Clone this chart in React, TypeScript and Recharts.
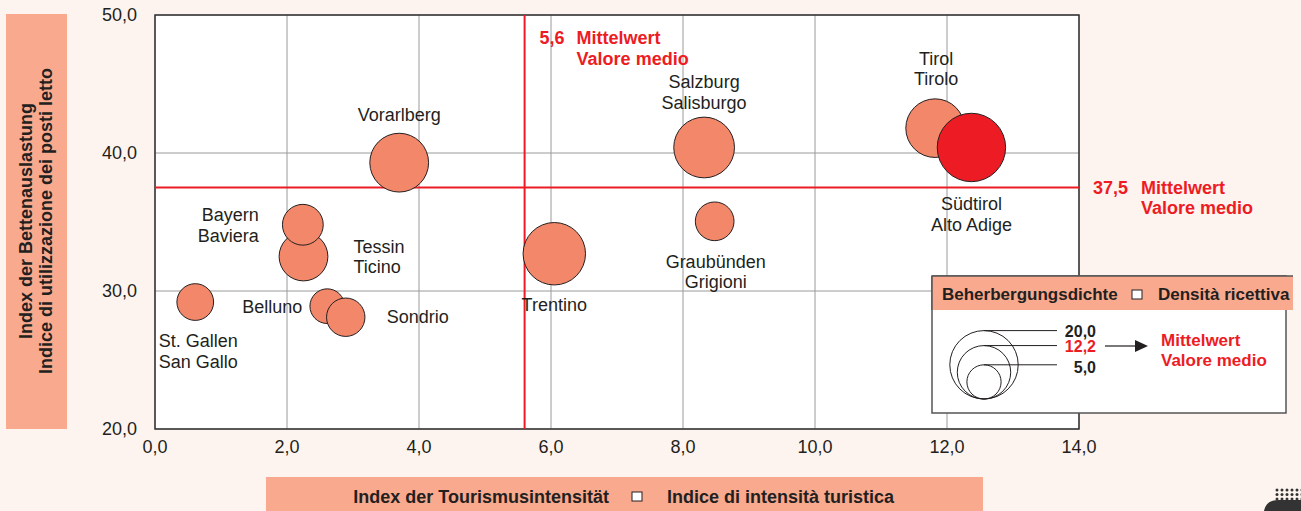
import React from 'react';
import {
  ScatterChart,
  Scatter,
  XAxis,
  YAxis,
  ZAxis,
  CartesianGrid,
  ReferenceLine,
  ReferenceArea,
  Cell,
} from 'recharts';

// regions (German / Italian names)
const regions = ['St. Gallen', 'Tessin', 'Bayern', 'Belluno', 'Sondrio', 'Vorarlberg', 'Trentino', 'Salzburg', 'Graubünden', 'Tirol', 'Südtirol'];
const regionsIt = ['San Gallo', 'Ticino', 'Baviera', '', '', '', '', 'Salisburgo', 'Grigioni', 'Tirolo', 'Alto Adige'];
// Index der Tourismusintensität
const tourismIntensity = [0.61, 2.25, 2.24, 2.61, 2.89, 3.7, 6.05, 8.32, 8.48, 11.82, 12.37];
// Index der Bettenauslastung
const bedOccupancy = [29.2, 32.5, 34.8, 28.9, 28.1, 39.3, 32.7, 40.4, 35.05, 41.8, 40.4];
// Beherbergungsdichte
const bedDensity = [6.4, 11.3, 7.9, 5.7, 7.0, 16.4, 18.5, 17.5, 7.1, 16.3, 22.2];

const xTicks = [0, 2, 4, 6, 8, 10, 12, 14];
const yTicks = [20, 30, 40, 50];
const meanIntensity = 5.6;
const meanOccupancy = 37.5;
const meanDensity = 12.2;
const legendSizes = [20, 12.2, 5];
const highlighted = 'Südtirol';

const data = regions.map((name, i) => ({
  name,
  nameIt: regionsIt[i],
  x: tourismIntensity[i],
  y: bedOccupancy[i],
  z: bedDensity[i],
}));

const FONT = '"Liberation Sans", Arial, Helvetica, sans-serif';
const TEXT = '#231f20';
const RED = '#ed1c24';
const SALMON = '#f3876a';
const BOX = '#f9aa8e';
const BG = '#fef4ef';

// bubble area is proportional to density: 20,0 -> r 34.2px
const Z_DOMAIN: [number, number] = [0, 20];
const Z_RANGE: [number, number] = [0, Math.PI * 34.2 * 34.2];
const radiusFor = (v: number) => Math.sqrt(((v - Z_DOMAIN[0]) / (Z_DOMAIN[1] - Z_DOMAIN[0])) * Z_RANGE[1] / Math.PI);

const fmt = (v: number) => v.toFixed(1).replace('.', ',');

// where the names sit around each bubble (px from centre)
const labelPos: Record<string, { dx: number; dy: number[]; anchor: 'start' | 'middle' | 'end' }> = {
  'St. Gallen': { dx: 3, dy: [39, 60], anchor: 'middle' },
  Tessin: { dx: 50, dy: [-10, 10], anchor: 'start' },
  Bayern: { dx: -44, dy: [-10, 11], anchor: 'end' },
  Belluno: { dx: -25, dy: [1], anchor: 'end' },
  Sondrio: { dx: 41, dy: [0], anchor: 'start' },
  Vorarlberg: { dx: 0, dy: [-48], anchor: 'middle' },
  Trentino: { dx: 0, dy: [51], anchor: 'middle' },
  Salzburg: { dx: 0, dy: [-65, -44], anchor: 'middle' },
  'Graubünden': { dx: 1, dy: [41, 61], anchor: 'middle' },
  Tirol: { dx: 1, dy: [-69, -49], anchor: 'middle' },
  'Südtirol': { dx: 0, dy: [57, 78], anchor: 'middle' },
};

const Bubble = (props: any) => {
  const { cx, cy, size, width, fill, payload } = props;
  const r = size != null ? Math.sqrt(size / Math.PI) : width / 2;
  const pos = labelPos[payload.name];
  const lines = [payload.name, payload.nameIt].filter(Boolean);
  return (
    <g>
      <circle cx={cx} cy={cy} r={r} fill={fill} stroke={TEXT} strokeWidth={1} />
      {lines.map((t: string, i: number) => (
        <text
          key={i}
          x={cx + pos.dx}
          y={cy + pos.dy[i]}
          textAnchor={pos.anchor}
          dominantBaseline="central"
          fontFamily={FONT}
          fontSize={18}
          fill={TEXT}
        >
          {t}
        </text>
      ))}
    </g>
  );
};

const MeanXLabel = (props: any) => {
  const { x, y } = props.viewBox;
  return (
    <g fontFamily={FONT} fontSize={18} fontWeight="bold" fill={RED}>
      <text x={x + 15} y={y + 23} dominantBaseline="central">{fmt(meanIntensity)}</text>
      <text x={x + 52} y={y + 23} dominantBaseline="central">Mittelwert</text>
      <text x={x + 52} y={y + 44} dominantBaseline="central">Valore medio</text>
    </g>
  );
};

const MeanYLabel = (props: any) => {
  const { x, y, width } = props.viewBox;
  const right = x + width;
  return (
    <g fontFamily={FONT} fontSize={18} fontWeight="bold" fill={RED}>
      <text x={right + 14} y={y} dominantBaseline="central">{fmt(meanOccupancy)}</text>
      <text x={right + 62} y={y} dominantBaseline="central">Mittelwert</text>
      <text x={right + 62} y={y + 20} dominantBaseline="central">Valore medio</text>
    </g>
  );
};

const SizeLegend = () => {
  const cx = 984;
  const bottom = 399;
  const rows = [331, 346, 367];
  return (
    <g fontFamily={FONT}>
      <rect x={932} y={276} width={354} height={137} fill="#fff" stroke="#555" strokeWidth={1.5} />
      <rect x={932} y={276} width={361} height={34} fill={BOX} />
      <line x1={932} y1={276} x2={1293} y2={276} stroke="#555" strokeWidth={1.5} />
      <line x1={932} y1={276} x2={932} y2={310} stroke="#555" strokeWidth={1.5} />
      <text x={942} y={294} fontSize={17} fontWeight="bold" fill={TEXT} dominantBaseline="central">Beherbergungsdichte</text>
      <rect x={1132} y={290} width={10} height={9} fill="#fff" stroke={TEXT} strokeWidth={1} />
      <text x={1158} y={294} fontSize={17} fontWeight="bold" fill={TEXT} dominantBaseline="central">Densità ricettiva</text>
      {legendSizes.map((v, i) => {
        const r = radiusFor(v);
        return (
          <g key={i}>
            <circle cx={cx} cy={bottom - r} r={r} fill="none" stroke={TEXT} strokeWidth={1} />
            <line x1={cx} y1={bottom - 2 * r} x2={1057} y2={bottom - 2 * r} stroke={TEXT} strokeWidth={1} />
            <text
              x={1096}
              y={rows[i]}
              textAnchor="end"
              fontSize={16}
              fontWeight="bold"
              fill={v === meanDensity ? RED : TEXT}
              dominantBaseline="central"
            >
              {fmt(v)}
            </text>
          </g>
        );
      })}
      <line x1={1105} y1={346} x2={1136} y2={346} stroke={TEXT} strokeWidth={1.2} />
      <polygon points="1135,340 1148,346 1135,352" fill={TEXT} />
      <text x={1161} y={340} fontSize={17} fontWeight="bold" fill={RED} dominantBaseline="central">Mittelwert</text>
      <text x={1161} y={360} fontSize={17} fontWeight="bold" fill={RED} dominantBaseline="central">Valore medio</text>
    </g>
  );
};

const Logo = () => {
  const dots = [];
  for (let r = 0; r < 4; r++) {
    for (let c = 0; c < 6; c++) {
      dots.push(<circle key={`${r}-${c}`} cx={1277 + c * 5} cy={490 + r * 4.5} r={1.5} fill="#333" />);
    }
  }
  return (
    <g>
      {dots}
      <path d="M1264,511 Q1266,500 1278,500 L1301,500 L1301,511 Z" fill="#333" />
    </g>
  );
};

export default function App() {
  return (
    <div style={{ position: 'absolute', left: 0, top: 0, width: 1301, height: 511, background: BG, overflow: 'hidden' }}>
      <ScatterChart width={1301} height={511} margin={{ top: 15, right: 222, bottom: 52, left: 95 }}>
        <CartesianGrid stroke="#9a9a9a" strokeWidth={1} fill="#fff" fillOpacity={1} />
        <XAxis
          type="number"
          dataKey="x"
          domain={[0, 14]}
          ticks={xTicks}
          tickFormatter={fmt}
          axisLine={false}
          tickLine={false}
          tickSize={0}
          tickMargin={11}
          height={30}
          tick={{ fontSize: 18, fill: TEXT, fontFamily: FONT }}
        />
        <YAxis
          type="number"
          dataKey="y"
          domain={[20, 50]}
          ticks={yTicks}
          tickFormatter={fmt}
          axisLine={false}
          tickLine={false}
          tickSize={0}
          tickMargin={18}
          width={60}
          tick={{ fontSize: 18, fill: TEXT, fontFamily: FONT }}
        />
        <ZAxis type="number" dataKey="z" domain={Z_DOMAIN} range={Z_RANGE} />
        <ReferenceArea x1={0} x2={14} y1={20} y2={50} fill="none" stroke="#333" strokeWidth={1.5} />
        <ReferenceLine x={meanIntensity} stroke={RED} strokeWidth={2} label={<MeanXLabel />} />
        <ReferenceLine y={meanOccupancy} stroke={RED} strokeWidth={2} label={<MeanYLabel />} />
        <Scatter data={data} fill={SALMON} shape={<Bubble />} isAnimationActive={false}>
          {data.map((d, i) => (
            <Cell key={i} fill={d.name === highlighted ? RED : SALMON} />
          ))}
        </Scatter>
      </ScatterChart>
      <svg width={1301} height={511} style={{ position: 'absolute', left: 0, top: 0, pointerEvents: 'none' }}>
        <rect x={6} y={14} width={61} height={415} fill={BOX} />
        <g transform="translate(36,221) rotate(-90)" fontFamily={FONT} fontSize={18} fontWeight="bold" fill={TEXT}>
          <text x={0} y={-10} textAnchor="middle" dominantBaseline="central">Index der Bettenauslastung</text>
          <text x={0} y={10} textAnchor="middle" dominantBaseline="central">Indice di utilizzazione dei posti letto</text>
        </g>
        <rect x={266} y={477} width={717} height={34} fill={BOX} />
        <text x={609} y={497} textAnchor="end" dominantBaseline="central" fontFamily={FONT} fontSize={18} fontWeight="bold" fill={TEXT}>
          Index der Tourismusintensität
        </text>
        <rect x={632} y={492} width={10} height={9} fill="#fff" stroke={TEXT} strokeWidth={1} />
        <text x={667} y={497} dominantBaseline="central" fontFamily={FONT} fontSize={18} fontWeight="bold" fill={TEXT}>
          Indice di intensità turistica
        </text>
        <SizeLegend />
        <Logo />
      </svg>
    </div>
  );
}
